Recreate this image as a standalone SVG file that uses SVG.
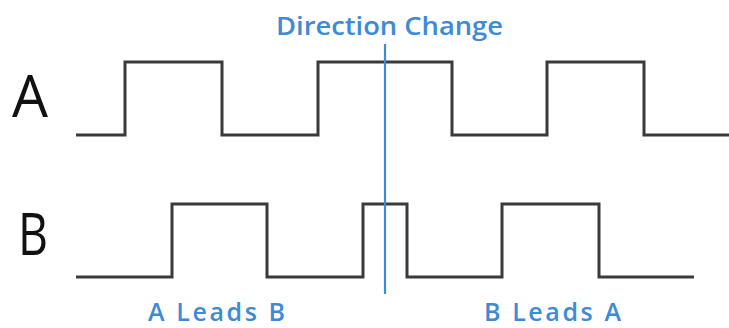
<svg xmlns="http://www.w3.org/2000/svg" width="729" height="328" viewBox="0 0 729 328">
  <style>
    .wave { fill: none; stroke: #3a3a3a; stroke-width: 3; stroke-linejoin: miter; }
    .sig { font-family: "Open Sans", "Liberation Sans", sans-serif; font-size: 58px; font-weight: 500; fill: #111; }
    .note { font-family: "Open Sans", "Liberation Sans", sans-serif; font-size: 25px; font-weight: 600; fill: #3d8ad8; }
    .marker { stroke: #3d8ad8; stroke-width: 2.2; }
  </style>
  <rect width="729" height="328" fill="#ffffff"/>

  <g id="signal-a">
    <text class="sig" x="12" y="117" textLength="36" lengthAdjust="spacingAndGlyphs">A</text>
    <path class="wave" d="M76 135 H125 V62 H222 V135 H318 V62 H452 V135 H547 V62 H644 V135 H729"/>
  </g>

  <g id="signal-b">
    <text class="sig" x="18" y="255" textLength="30" lengthAdjust="spacingAndGlyphs">B</text>
    <path class="wave" d="M76 277 H172 V204 H267 V277 H363 V204 H407 V277 H502 V204 H599 V277 H694"/>
  </g>

  <g id="direction-change">
    <line class="marker" x1="385" y1="44" x2="385" y2="294"/>
    <text class="note" x="276" y="35" textLength="227" lengthAdjust="spacingAndGlyphs">Direction Change</text>
  </g>

  <g id="labels">
    <text class="note" x="148" y="321" textLength="137" lengthAdjust="spacing">A Leads  B</text>
    <text class="note" x="484" y="321" textLength="137" lengthAdjust="spacing">B Leads  A</text>
  </g>
</svg>
